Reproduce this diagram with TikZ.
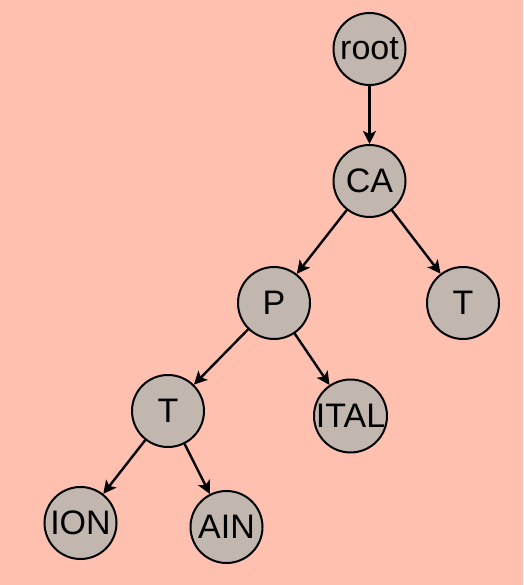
\documentclass[tikz,border=0pt]{standalone}
\usepackage{fontspec}
\setmainfont{Liberation Sans}
\usetikzlibrary{arrows.meta}
\definecolor{bgpink}{RGB}{255,192,176}
\definecolor{nodegray}{RGB}{193,183,175}
\begin{document}
\begin{tikzpicture}[x=1pt,y=1pt,
  tnode/.style={circle,draw=black,line width=2pt,fill=nodegray,minimum size=72pt,inner sep=0pt,
    font=\fontsize{34}{34}\selectfont},
  edge/.style={line width=2.4pt,-{Stealth[length=13pt,width=13pt,inset=3pt]}}]
\fill[bgpink] (0,0) rectangle (523,585);
\useasboundingbox (0,0) rectangle (523,585);
\node[tnode] (root) at (369.5,536) {root};
\node[tnode] (ca) at (369.5,404) {CA};
\node[tnode] (p) at (274,282) {P};
\node[tnode] (tr) at (463,282) {T};
\node[tnode] (t) at (168,174) {T};
\node[tnode] (ital) at (350.5,169) {ITAL};
\node[tnode] (ion) at (80.5,62) {ION};
\node[tnode] (ain) at (226.5,58) {AIN};
\draw[edge] (root) -- (ca);
\draw[edge] (ca) -- (p);
\draw[edge] (ca) -- (tr);
\draw[edge] (p) -- (t);
\draw[edge] (p) -- (ital);
\draw[edge] (t) -- (ion);
\draw[edge] (t) -- (ain);
\end{tikzpicture}
\end{document}
